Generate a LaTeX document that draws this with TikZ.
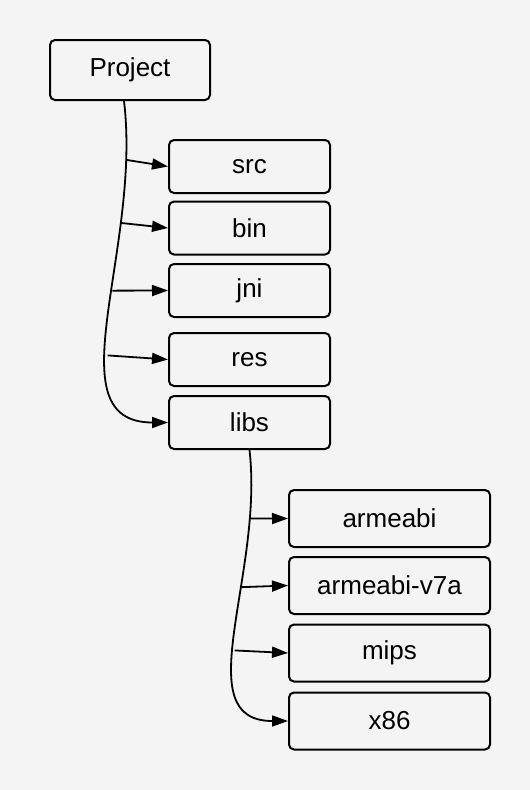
\documentclass[tikz,border=0pt]{standalone}
\usepackage{fontspec}
\setmainfont{Liberation Sans}
\usetikzlibrary{arrows.meta}
\definecolor{bgcol}{HTML}{F4F4F4}
\begin{document}
\begin{tikzpicture}[x=1pt,y=-1pt,
  box/.style={draw=black, line width=2pt, rounded corners=5pt, inner sep=0pt,
    font=\fontsize{26}{30}\selectfont},
  topbox/.style={box, minimum width=160pt, minimum height=60pt},
  colone/.style={box, minimum width=161pt, minimum height=53pt},
  coltwo/.style={box, minimum width=201pt, minimum height=57pt},
  trunk/.style={line width=1.8pt, -{Triangle[length=16pt,width=11pt]}},
  link/.style={line width=1.8pt, -{Triangle[length=16pt,width=11pt]}}
]
\fill[bgcol] (0,0) rectangle (530,790);
\node[topbox] (project) at (130,70) {Project};
\node[colone] (src)  at (249.5,166.5) {src};
\node[colone] (bin)  at (249.5,228) {bin};
\node[colone] (jni)  at (249.5,290.5) {jni};
\node[colone] (res)  at (249.5,359.5) {res};
\node[colone] (libs) at (249.5,422.5) {libs};
\node[coltwo] (armeabi) at (389.5,518.5) {armeabi};
\node[coltwo] (armv7)   at (389.5,585.5) {armeabi-v7a};
\node[coltwo] (mips)    at (389.5,653) {mips};
\node[coltwo] (x86)     at (389.5,721) {x86};

\draw[trunk] ([xshift=-6pt]project.south) .. controls (142,250) and (52,422.5) .. (libs.west)
  coordinate[pos=0.13] (ta) coordinate[pos=0.27] (tb)
  coordinate[pos=0.43] (tc) coordinate[pos=0.61] (td);
\draw[link] (ta) -- (src.west);
\draw[link] (tb) -- (bin.west);
\draw[link] (tc) -- (jni.west);
\draw[link] (td) -- (res.west);

\draw[trunk] (libs.south) .. controls (264,575) and (186,721) .. (x86.west)
  coordinate[pos=0.18] (ua) coordinate[pos=0.365] (ub) coordinate[pos=0.56] (uc);
\draw[link] (ua) -- (armeabi.west);
\draw[link] (ub) -- (armv7.west);
\draw[link] (uc) -- (mips.west);
\end{tikzpicture}
\end{document}
